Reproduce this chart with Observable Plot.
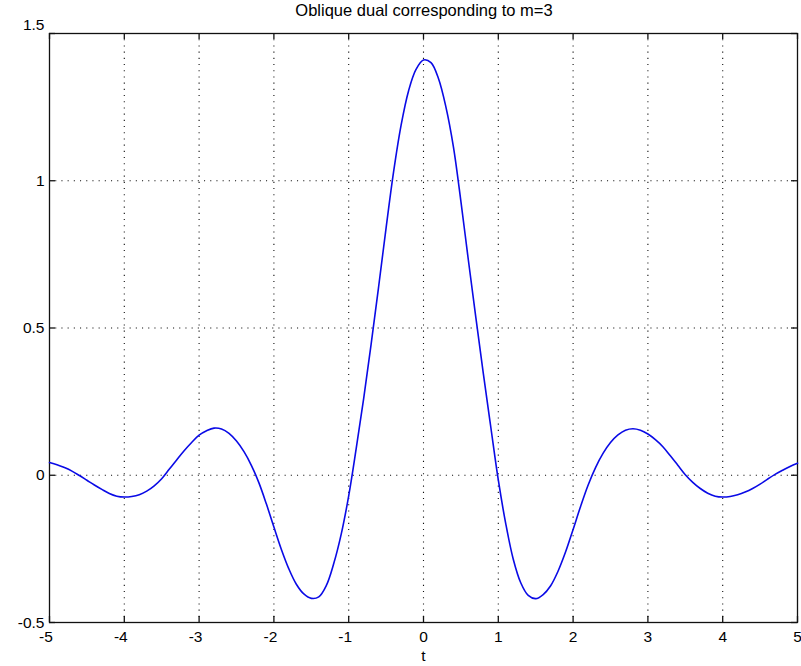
<!DOCTYPE html>
<html>
<head>
<meta charset="utf-8">
<script src="https://cdn.jsdelivr.net/npm/d3@7"></script>
<script src="https://cdn.jsdelivr.net/npm/@observablehq/plot@0.6"></script>
<style>
  html, body { margin: 0; padding: 0; background: #fff; }
  #wrap { position: relative; width: 801px; height: 666px; font-family: "Liberation Sans", Arial, sans-serif; }
  #title { position: absolute; left: 0; top: 0; width: 801px; height: 20px; }
  #title span { position: absolute; left: 424px; top: 1px; transform: translateX(-50%); font-size: 16.5px; white-space: nowrap; color: #000; }
  #chart { position: absolute; left: 0; top: 20px; }
</style>
</head>
<body>
<div id="wrap">
  <div id="title"><span></span></div>
  <div id="chart"></div>
</div>
<script>
// Data (t from -5 to 5)
const tValues = [
  -5.0, -4.9, -4.8, -4.7, -4.6, -4.5, -4.4, -4.3, -4.2, -4.1,
  -4.0, -3.9, -3.8, -3.7, -3.6, -3.5, -3.4, -3.3, -3.2, -3.1,
  -3.0, -2.9, -2.8, -2.7, -2.6, -2.5, -2.4, -2.3, -2.2, -2.1,
  -2.0, -1.9, -1.8, -1.7, -1.6, -1.5, -1.4, -1.3, -1.2, -1.1,
  -1.0, -0.9, -0.8, -0.7, -0.6, -0.5, -0.4, -0.3, -0.2, -0.1,
   0.0,  0.1,  0.2,  0.3,  0.4,  0.5,  0.6,  0.7,  0.8,  0.9,
   1.0,  1.1,  1.2,  1.3,  1.4,  1.5,  1.6,  1.7,  1.8,  1.9,
   2.0,  2.1,  2.2,  2.3,  2.4,  2.5,  2.6,  2.7,  2.8,  2.9,
   3.0,  3.1,  3.2,  3.3,  3.4,  3.5,  3.6,  3.7,  3.8,  3.9,
   4.0,  4.1,  4.2,  4.3,  4.4,  4.5,  4.6,  4.7,  4.8,  4.9,
   5.0
];
const fValues = [
   0.043,  0.036,  0.026,  0.014, -0.001, -0.017, -0.033, -0.048, -0.062, -0.071,
  -0.074, -0.072, -0.066, -0.054, -0.036, -0.012,  0.020,  0.052,  0.083,  0.111,
   0.136,  0.151,  0.160,  0.157,  0.142,  0.116,  0.080,  0.033, -0.026, -0.098,
  -0.176, -0.252, -0.318, -0.370, -0.403, -0.418, -0.413, -0.375, -0.300, -0.200,
  -0.070,  0.090,  0.260,  0.445,  0.640,  0.840,  1.030,  1.188,  1.305,  1.378,
   1.410,  1.401,  1.347,  1.250,  1.115,  0.930,  0.730,  0.535,  0.345,  0.163,
  -0.016, -0.165, -0.285, -0.365, -0.408, -0.419, -0.405, -0.375, -0.325, -0.260,
  -0.184, -0.106, -0.034,  0.026,  0.074,  0.111,  0.137,  0.153,  0.158,  0.153,
   0.140,  0.121,  0.097,  0.066,  0.034,  0.002, -0.024, -0.045, -0.061, -0.071,
  -0.074, -0.072, -0.066, -0.057, -0.045, -0.030, -0.013,  0.003,  0.017,  0.030,
   0.041
];
const xTicks = [-5, -4, -3, -2, -1, 0, 1, 2, 3, 4, 5];
const xTickLabels = ["-5", "-4", "-3", "-2", "-1", "0", "1", "2", "3", "4", "5"];
const yTicks = [-0.5, 0, 0.5, 1, 1.5];
const yTickLabels = ["-0.5", "0", "0.5", "1", "1.5"];
const titleText = "Oblique dual corresponding to m=3";
const xLabel = "t";

const curve = tValues.map((t, i) => ({t, f: fValues[i]}));
const xLab = xTicks.map((v, i) => ({v, s: xTickLabels[i]}));
const yLab = yTicks.map((v, i) => ({v, s: yTickLabels[i]}));
const xGrid = xTicks.slice(1, -1);
const yGrid = yTicks.slice(1, -1);

document.querySelector("#title span").textContent = titleText;

// layout
const W = 801, H = 646, mT = 13, mB = 44, mL = 49, mR = 4;
const frameW = W - mL - mR, frameH = H - mT - mB, tickLen = 6;
const tickStyle = {stroke: "#111", strokeWidth: 1.3, strokeOpacity: 1};

const fontFamily = "Liberation Sans, Arial, sans-serif";
const chart = Plot.plot({
  width: W,
  height: H,
  marginTop: mT,
  marginBottom: mB,
  marginLeft: mL,
  marginRight: mR,
  style: {fontFamily, fontSize: "15px", color: "#000", background: "#fff", overflow: "visible"},
  x: {domain: [-5, 5], axis: null},
  y: {domain: [-0.5, 1.5], axis: null},
  marks: [
    Plot.gridX(xGrid, {stroke: "#111", strokeOpacity: 1, strokeWidth: 1.1, strokeDasharray: "1.1,5.1"}),
    Plot.gridY(yGrid, {stroke: "#111", strokeOpacity: 1, strokeWidth: 1.1, strokeDasharray: "1.1,5.1"}),
    // inward ticks on all four sides
    Plot.ruleX(xTicks, {x: d => d, insetTop: frameH - tickLen, ...tickStyle}),
    Plot.ruleX(xTicks, {x: d => d, insetBottom: frameH - tickLen, ...tickStyle}),
    Plot.ruleY(yTicks, {y: d => d, insetRight: frameW - tickLen, ...tickStyle}),
    Plot.ruleY(yTicks, {y: d => d, insetLeft: frameW - tickLen, ...tickStyle}),
    Plot.frame({stroke: "#111", strokeWidth: 1.3}),
    Plot.line(curve, {x: "t", y: "f", stroke: "#0a0ae6", strokeWidth: 1.6, curve: "catmull-rom"}),
    // x tick labels (negative ones shifted so the digit sits on the tick)
    Plot.text(xLab.filter(d => d.v >= 0), {x: "v", text: "s", frameAnchor: "bottom", dy: 19, fontSize: 15.5}),
    Plot.text(xLab.filter(d => d.v < 0), {x: "v", text: "s", frameAnchor: "bottom", dy: 19, dx: -3.5, fontSize: 15.5}),
    // y tick labels
    Plot.text(yLab.filter(d => d.v > -0.5 && d.v < 1.5), {y: "v", text: "s", frameAnchor: "left", textAnchor: "end", dx: -5, fontSize: 15.5}),
    Plot.text(yLab.filter(d => d.v === -0.5), {y: "v", text: "s", frameAnchor: "left", textAnchor: "end", dx: -5, dy: 1, fontSize: 15.5}),
    Plot.text(yLab.filter(d => d.v === 1.5), {y: "v", text: "s", frameAnchor: "left", textAnchor: "end", dx: -5, dy: -8, fontSize: 15.5}),
    // x axis label
    Plot.text([xLabel], {text: d => d, frameAnchor: "bottom", x: () => 0, dy: 38, fontSize: 15.5})
  ]
});
document.getElementById("chart").appendChild(chart);
</script>
</body>
</html>
